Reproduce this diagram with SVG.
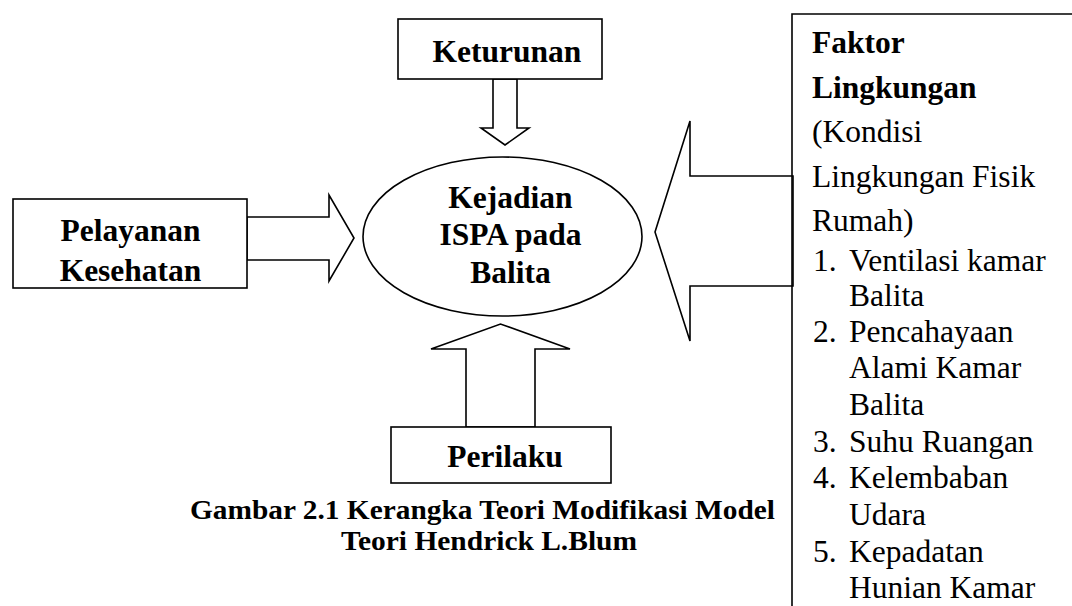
<svg xmlns="http://www.w3.org/2000/svg" width="1072" height="606" viewBox="0 0 1072 606">
  <style>
    .box { fill: #ffffff; stroke: #000000; stroke-width: 1.6; }
    .arrow { fill: #ffffff; stroke: #000000; stroke-width: 1.6; stroke-linejoin: miter; }
    .b { font-family: "Liberation Serif", "Times New Roman", serif; font-weight: bold; font-size: 31.5px; fill: #000; }
    .r { font-family: "Liberation Serif", "Times New Roman", serif; font-size: 31.5px; fill: #000; }
    .cap { font-family: "Liberation Serif", "Times New Roman", serif; font-weight: bold; font-size: 27.5px; fill: #000; }
  </style>
  <rect width="1072" height="606" fill="#ffffff"/>

  <g id="connectors">
    <polygon class="arrow" points="493,79 517,79 517,128 529,128 505,145 481,128 493,128"/>
    <polygon class="arrow" points="247,217 329,217 329,195 354,238 329,281 329,260 247,260"/>
    <polygon class="arrow" points="466,427 466,349 431,349 500.5,324 570,349 535,349 535,427"/>
    <polygon class="arrow" points="793,176 690,176 690,121 655,232 690,341 690,286 793,286"/>
  </g>

  <g id="node-keturunan">
    <rect class="box" x="398" y="19" width="204" height="60"/>
    <text class="b" x="507" y="62" text-anchor="middle">Keturunan</text>
  </g>

  <g id="node-pelayanan">
    <rect class="box" x="13" y="199" width="234" height="89"/>
    <text class="b" x="130.5" y="241" text-anchor="middle">Pelayanan</text>
    <text class="b" x="130.5" y="281" text-anchor="middle">Kesehatan</text>
  </g>

  <g id="node-ispa">
    <ellipse class="box" cx="502.5" cy="236.5" rx="139.5" ry="79.5"/>
    <text class="b" x="510.5" y="208" text-anchor="middle">Kejadian</text>
    <text class="b" x="510.5" y="245" text-anchor="middle">ISPA pada</text>
    <text class="b" x="510.5" y="283" text-anchor="middle">Balita</text>
  </g>

  <g id="node-perilaku">
    <rect class="box" x="391" y="427" width="220" height="56"/>
    <text class="b" x="505" y="467" text-anchor="middle">Perilaku</text>
  </g>

  <g id="node-lingkungan">
    <path d="M792,610 L792,14 L1074,14" fill="none" stroke="#000" stroke-width="1.6"/>
    <text class="b" x="812" y="53">Faktor</text>
    <text class="b" x="812" y="97.5">Lingkungan</text>
    <text class="r" x="812" y="142">(Kondisi</text>
    <text class="r" x="812" y="186.5">Lingkungan Fisik</text>
    <text class="r" x="812" y="231">Rumah)</text>
    <text class="r" x="813" y="271">1.</text>
    <text class="r" x="849" y="271">Ventilasi kamar</text>
    <text class="r" x="849" y="306">Balita</text>
    <text class="r" x="813" y="342">2.</text>
    <text class="r" x="849" y="342">Pencahayaan</text>
    <text class="r" x="849" y="378">Alami Kamar</text>
    <text class="r" x="849" y="415">Balita</text>
    <text class="r" x="813" y="452">3.</text>
    <text class="r" x="849" y="452">Suhu Ruangan</text>
    <text class="r" x="813" y="488">4.</text>
    <text class="r" x="849" y="488">Kelembaban</text>
    <text class="r" x="849" y="525">Udara</text>
    <text class="r" x="813" y="562">5.</text>
    <text class="r" x="849" y="562">Kepadatan</text>
    <text class="r" x="849" y="598">Hunian Kamar</text>
  </g>

  <g id="caption">
    <text class="cap" x="190" y="519" textLength="585" lengthAdjust="spacingAndGlyphs">Gambar 2.1 Kerangka Teori Modifikasi Model</text>
    <text class="cap" x="341" y="549.5" textLength="296" lengthAdjust="spacingAndGlyphs">Teori Hendrick L.Blum</text>
  </g>
</svg>
